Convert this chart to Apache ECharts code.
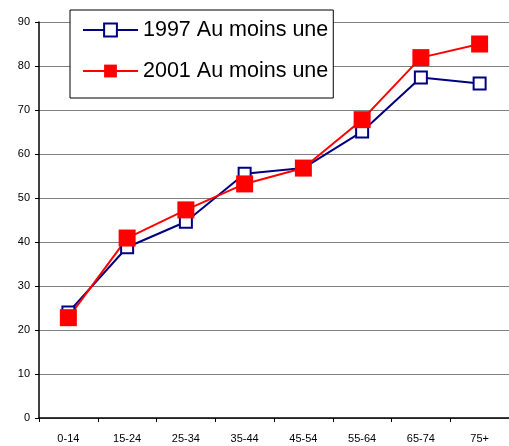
<!DOCTYPE html>
<html>
<head>
<meta charset="utf-8">
<script src="https://cdn.jsdelivr.net/npm/echarts@6/dist/echarts.min.js"></script>
<style>
  html, body { margin: 0; padding: 0; background: #fff; }
</style>
</head>
<body>
<div id="main" style="width: 509px;height:446px;"></div>
<script>
// tranches d'âge
var categories = ['0-14', '15-24', '25-34', '35-44', '45-54', '55-64', '65-74', '75+'];
var y1997 = [24, 38.8, 44.6, 55.5, 56.8, 65.1, 77.4, 76];
var y2001 = [22.8, 40.9, 47.3, 53.2, 56.8, 67.8, 81.9, 85];
var names = ['1997 Au moins une', '2001 Au moins une'];

var myChart = echarts.init(document.getElementById('main'));

var option = {
  backgroundColor: '#fff',
  animation: false,
  textStyle: { fontFamily: 'Liberation Sans, Arial, sans-serif' },
  legend: {
    data: names,
    orient: 'vertical',
    left: 70,
    top: 10,
    padding: [9, 5, 16, 12],
    itemGap: 19,
    itemWidth: 55,
    itemHeight: 16,
    borderColor: '#000',
    borderWidth: 1,
    backgroundColor: '#fff',
    textStyle: { fontSize: 21.5, color: '#000', fontFamily: 'Liberation Sans, Arial, sans-serif' }
  },
  grid: {
    left: 39,
    right: -2,
    top: 22,
    bottom: 28
  },
  xAxis: {
    type: 'category',
    data: categories,
    boundaryGap: true,
    axisLine: { lineStyle: { color: '#000', width: 1.5 } },
    axisTick: { show: true, length: 4, lineStyle: { color: '#000' } },
    axisLabel: { color: '#000', fontSize: 11, margin: 15 }
  },
  yAxis: {
    type: 'value',
    min: 0,
    max: 90,
    interval: 10,
    axisLine: { show: true, lineStyle: { color: '#000', width: 1.5 } },
    axisTick: { show: true, length: 4, lineStyle: { color: '#000' } },
    axisLabel: { color: '#000', fontSize: 11, margin: 9 },
    splitLine: { lineStyle: { color: '#808080', width: 1 } }
  },
  series: [
    {
      name: names[0],
      type: 'line',
      data: y1997,
      symbol: 'rect',
      symbolSize: 12,
      lineStyle: { color: '#000080', width: 2 },
      itemStyle: { color: '#fff', borderColor: '#000080', borderWidth: 2 }
    },
    {
      name: names[1],
      type: 'line',
      data: y2001,
      symbol: 'rect',
      symbolSize: 17,
      lineStyle: { color: '#ff0000', width: 2 },
      itemStyle: { color: '#ff0000', borderColor: '#ff0000', borderWidth: 0 }
    }
  ]
};
myChart.setOption(option);
</script>
</body>
</html>
